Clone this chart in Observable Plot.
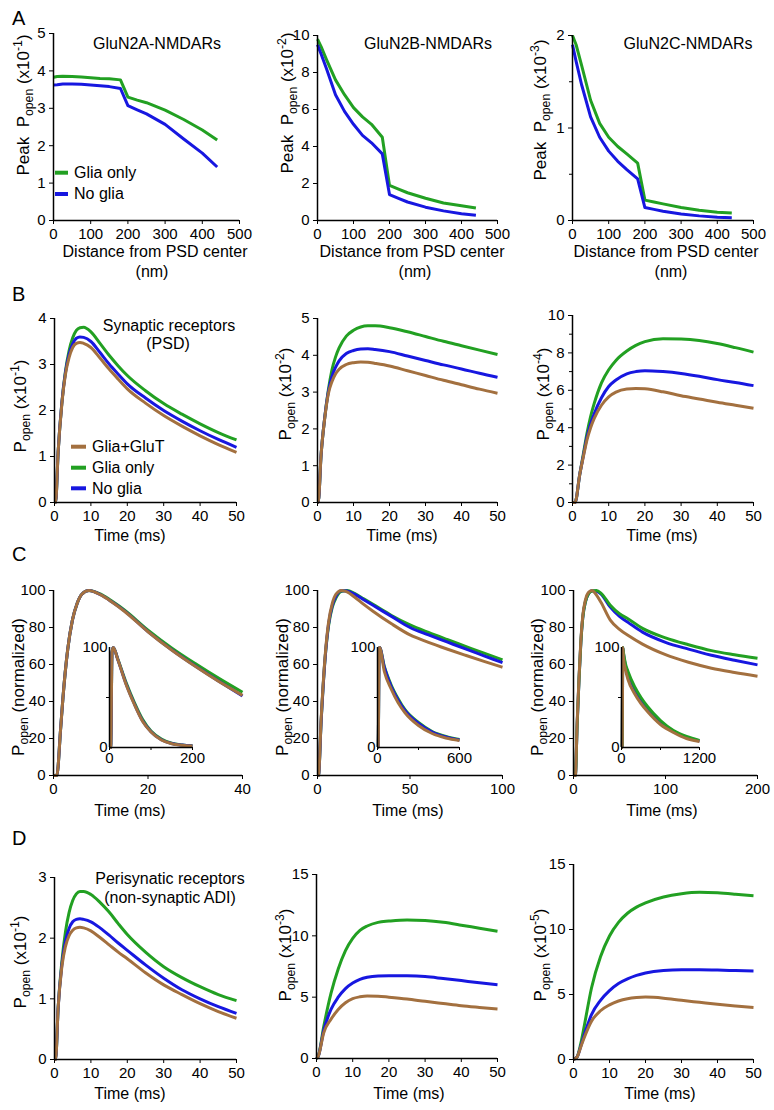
<!DOCTYPE html>
<html><head><meta charset="utf-8">
<script src="https://cdn.jsdelivr.net/npm/d3@7"></script>
<script src="https://cdn.jsdelivr.net/npm/@observablehq/plot@0.6"></script>
<style>
body{margin:0;background:#fff;}
#fig{position:relative;width:774px;height:1110px;overflow:hidden;background:#fff;font-family:"Liberation Sans",Arial,sans-serif;}
</style></head><body><div id="fig"></div>
<script>
// ---------- DATA ----------
// Row A: peak Popen vs distance from PSD center (nm)
const A_dist = [0, 10, 25, 50, 75, 100, 125, 150, 180, 200, 225, 250, 300, 350, 400, 440];
const A1_glia   = [3.83, 3.85, 3.86, 3.85, 3.84, 3.82, 3.80, 3.79, 3.76, 3.30, 3.22, 3.15, 2.95, 2.70, 2.42, 2.15];
const A1_noglia = [3.62, 3.63, 3.65, 3.65, 3.64, 3.62, 3.60, 3.58, 3.53, 3.07, 2.96, 2.85, 2.57, 2.18, 1.80, 1.43];
const A2_glia   = [9.8, 9.4, 8.7, 7.6, 6.8, 6.1, 5.6, 5.2, 4.5, 1.9, 1.7, 1.5, 1.2, 0.95, 0.8, 0.68];
const A2_noglia = [9.5, 9.0, 8.2, 6.8, 5.9, 5.2, 4.6, 4.2, 3.6, 1.4, 1.2, 1.0, 0.72, 0.52, 0.37, 0.28];
const A3_glia   = [2.0, 1.9, 1.68, 1.3, 1.05, 0.9, 0.8, 0.72, 0.62, 0.22, 0.2, 0.18, 0.14, 0.11, 0.09, 0.08];
const A3_noglia = [1.9, 1.72, 1.47, 1.12, 0.9, 0.75, 0.64, 0.55, 0.45, 0.14, 0.12, 0.10, 0.07, 0.05, 0.035, 0.03];

// Row B: synaptic receptors Popen vs time (ms)
const B1_t = [0, 0.3, 1, 2, 3, 4, 5, 6, 7, 8, 10, 12.5, 15, 17.5, 20, 25, 30, 35, 40, 45, 50];
const B1_gluT   = [0, 0, 1.1, 2.12, 2.78, 3.15, 3.37, 3.46, 3.48, 3.46, 3.37, 3.14, 2.9, 2.68, 2.47, 2.16, 1.89, 1.66, 1.45, 1.26, 1.09];
const B1_glia   = [0, 0, 1.1, 2.15, 2.85, 3.3, 3.58, 3.74, 3.8, 3.81, 3.71, 3.46, 3.2, 2.97, 2.76, 2.43, 2.15, 1.92, 1.71, 1.52, 1.36];
const B1_noglia = [0, 0, 1.1, 2.15, 2.82, 3.22, 3.45, 3.57, 3.6, 3.59, 3.5, 3.26, 3.01, 2.79, 2.58, 2.27, 2.0, 1.77, 1.56, 1.37, 1.2];
const B2_t = [0, 0.2, 1, 2, 3, 4, 5, 6, 8, 10, 12, 14, 16, 20, 25, 30, 35, 40, 45, 50];
const B2_gluT   = [0, 0, 1.3, 2.28, 2.95, 3.28, 3.49, 3.62, 3.75, 3.8, 3.82, 3.81, 3.78, 3.71, 3.58, 3.45, 3.32, 3.2, 3.08, 2.97];
const B2_glia   = [0, 0, 1.3, 2.3, 3.05, 3.6, 3.95, 4.2, 4.52, 4.68, 4.77, 4.8, 4.8, 4.75, 4.64, 4.51, 4.38, 4.26, 4.14, 4.02];
const B2_noglia = [0, 0, 1.3, 2.3, 3.0, 3.42, 3.67, 3.85, 4.05, 4.13, 4.17, 4.18, 4.16, 4.1, 3.98, 3.86, 3.74, 3.63, 3.51, 3.4];
const B3_t = [0, 0.7, 2, 3, 4, 5, 6, 8, 10, 12, 15, 17.5, 20, 25, 30, 35, 40, 45, 50];
const B3_gluT   = [0, 0, 1.5, 2.45, 3.35, 4.0, 4.5, 5.2, 5.65, 5.9, 6.07, 6.1, 6.08, 5.92, 5.71, 5.54, 5.36, 5.2, 5.04];
const B3_glia   = [0, 0, 1.5, 2.6, 3.7, 4.6, 5.3, 6.4, 7.1, 7.6, 8.1, 8.4, 8.6, 8.76, 8.74, 8.66, 8.5, 8.28, 8.04];
const B3_noglia = [0, 0, 1.5, 2.5, 3.5, 4.2, 4.75, 5.6, 6.2, 6.55, 6.88, 7.0, 7.05, 7.0, 6.9, 6.75, 6.57, 6.42, 6.25];

// Row C: normalized Popen vs time (ms), with insets
const C1_t = [0, 0.7, 1.5, 2, 3, 4, 5, 6, 7.5, 10, 12.5, 15, 20, 25, 30, 35, 40];
const C1_gluT   = [0, 0, 25, 42, 68, 84, 93, 98, 100, 97.6, 93.5, 88.8, 77.7, 67.8, 59, 50.8, 43.3];
const C1_glia   = [0, 0, 25, 42, 68, 84, 93, 98, 100, 98, 94, 89.5, 78.6, 69, 60.5, 52.5, 45];
const C1_noglia = [0, 0, 25, 42, 68, 84, 93, 98, 100, 97.7, 93.6, 89, 77.8, 68, 59.2, 51, 43];
const C1i_t = [0, 3, 6, 9, 20, 40, 60, 80, 100, 125, 150, 175, 200];
const C1i_gluT   = [0, 0, 95, 100, 88, 63, 43, 26, 15.5, 7.5, 3.8, 2.3, 1.4];
const C1i_glia   = [0, 0, 95, 100, 88.5, 65, 45, 28, 16.5, 8.5, 4.3, 2.6, 1.7];
const C1i_noglia = [0, 0, 95, 100, 88, 63.5, 43.5, 26.5, 15.8, 7.8, 4, 2.4, 1.5];
const C2_t = [0, 0.5, 2, 4, 6, 8, 10, 13, 16, 20, 25, 30, 40, 50, 60, 70, 80, 90, 100];
const C2_gluT   = [0, 0, 31, 63, 83, 93, 98, 100, 99.2, 96.5, 92.5, 88.8, 82, 76, 72, 68.4, 65, 61.7, 58.5];
const C2_glia   = [0, 0, 30, 62, 81, 91, 96, 99.5, 100, 98.5, 95.5, 92.5, 86.5, 81.4, 77.3, 73.5, 69.8, 66.1, 62.5];
const C2_noglia = [0, 0, 30, 62, 82, 92, 97, 99.8, 99.7, 98, 95, 92, 86, 80, 76, 72.2, 68.4, 64.7, 61];
const C2i_t = [0, 5, 12, 15, 50, 100, 150, 200, 300, 400, 500, 600];
const C2i_gluT   = [0, 0, 98, 100, 76, 58.5, 45, 35, 22, 14, 9.5, 7];
const C2i_glia   = [0, 0, 97, 100, 81, 62.5, 49, 38, 25, 16, 11, 8];
const C2i_noglia = [0, 0, 97, 100, 80, 61, 47.5, 37, 24, 15.5, 10.5, 7.5];
const C3_t = [0, 2, 4, 6, 8, 10, 13, 16, 20, 25, 30, 40, 50, 60, 75, 100, 125, 150, 175, 200];
const C3_gluT   = [0, 0, 29, 53, 73, 86, 95, 98.8, 100, 97.5, 93.5, 84, 79, 75.5, 71, 65.3, 61.2, 58, 55.7, 53.7];
const C3_glia   = [0, 0, 28, 52, 72, 85, 94, 98, 99.7, 100, 98.5, 92, 87.4, 84.5, 79.5, 74.4, 70.7, 67.5, 65.3, 63.4];
const C3_noglia = [0, 0, 28, 52, 72, 85, 94, 98, 99.8, 99.6, 98, 91, 86, 82.5, 77.5, 72, 68.3, 65, 62.3, 59.8];
const C3i_t = [0, 10, 20, 30, 60, 100, 200, 300, 400, 600, 800, 1000, 1200];
const C3i_gluT   = [0, 0, 100, 90, 78, 68, 54, 44, 36, 23, 15, 9, 6];
const C3i_glia   = [0, 0, 100, 95, 84, 76, 61, 50, 41, 27, 17, 11, 7];
const C3i_noglia = [0, 0, 100, 94, 82, 74, 59, 48, 39, 25, 16, 10, 6.5];

// Row D: perisynaptic receptors Popen vs time (ms)
const D1_t = [0, 0.3, 1, 2, 3, 4, 5, 6, 7, 8, 10, 12.5, 15, 17.5, 20, 25, 30, 35, 40, 45, 50];
const D1_gluT   = [0, 0, 0.85, 1.52, 1.86, 2.04, 2.13, 2.17, 2.18, 2.17, 2.12, 2.01, 1.89, 1.77, 1.66, 1.43, 1.23, 1.07, 0.92, 0.79, 0.68];
const D1_glia   = [0, 0, 0.85, 1.6, 2.1, 2.42, 2.62, 2.73, 2.77, 2.77, 2.72, 2.59, 2.43, 2.24, 2.06, 1.77, 1.53, 1.35, 1.2, 1.07, 0.97];
const D1_noglia = [0, 0, 0.85, 1.55, 1.95, 2.16, 2.27, 2.31, 2.32, 2.31, 2.27, 2.17, 2.05, 1.92, 1.8, 1.56, 1.34, 1.15, 1.0, 0.87, 0.76];
const D2_t = [0, 0.5, 2, 4, 6, 8, 10, 12, 14, 17, 20, 25, 30, 35, 40, 45, 50];
const D2_gluT   = [0, 0.2, 2.1, 3.2, 4.0, 4.55, 4.88, 5.03, 5.1, 5.08, 5.0, 4.85, 4.66, 4.48, 4.3, 4.16, 4.03];
const D2_glia   = [0, 0.2, 2.6, 5.3, 7.3, 8.8, 9.8, 10.45, 10.8, 11.1, 11.2, 11.3, 11.25, 11.1, 10.87, 10.62, 10.38];
const D2_noglia = [0, 0.2, 2.3, 4.0, 5.0, 5.7, 6.15, 6.45, 6.62, 6.73, 6.75, 6.74, 6.68, 6.52, 6.35, 6.18, 6.02];
const D3_t = [0, 1, 2, 3, 5, 7.5, 10, 12.5, 15, 17.5, 20, 25, 30, 35, 40, 45, 50];
const D3_gluT   = [0, 0.2, 0.95, 1.7, 2.95, 3.75, 4.2, 4.5, 4.68, 4.77, 4.8, 4.72, 4.55, 4.4, 4.25, 4.12, 4.0];
const D3_glia   = [0, 0.2, 1.2, 2.6, 5.5, 7.9, 9.5, 10.55, 11.25, 11.72, 12.05, 12.5, 12.75, 12.86, 12.82, 12.72, 12.6];
const D3_noglia = [0, 0.2, 1.0, 1.9, 3.45, 4.55, 5.3, 5.85, 6.2, 6.47, 6.66, 6.85, 6.9, 6.9, 6.88, 6.84, 6.8];

// Tick values
const A_xticks = [0, 100, 200, 300, 400, 500];
const A1_yticks = [0, 1, 2, 3, 4, 5];
const A2_yticks = [0, 2, 4, 6, 8, 10];
const A3_yticks = [0, 1, 2];
const A3_yminor = [0.5, 1.5];
const T50_ticks = [0, 10, 20, 30, 40, 50];
const B1_yticks = [0, 1, 2, 3, 4];
const B2_yticks = [0, 1, 2, 3, 4, 5];
const B3_yticks = [0, 2, 4, 6, 8, 10];
const B3_yminor = [1, 3, 5, 7, 9];
const C_yticks = [0, 20, 40, 60, 80, 100];
const C1_xticks = [0, 20, 40];
const C2_xticks = [0, 50, 100];
const C3_xticks = [0, 100, 200];
const Ci_yticks = [0, 100];
const Ci_yminor = [50];
const C1i_xticks = [0, 200], C1i_xminor = [100];
const C2i_xticks = [0, 600], C2i_xminor = [300];
const C3i_xticks = [0, 1200], C3i_xminor = [600];
const D1_yticks = [0, 1, 2, 3];
const D23_yticks = [0, 5, 10, 15];

// Series names / colours
const seriesNames = ["Glia+GluT", "Glia only", "No glia"];
const seriesColors = ["#a3703f", "#22a022", "#1717e0"];

// ---------- DRAWING ----------
const FONT = '"Liberation Sans", Arial, sans-serif';
const fig = document.getElementById("fig");
const GLUT = seriesColors[0], GLIA = seriesColors[1], NOGLIA = seriesColors[2];

function rows(t, v) { return t.map((x, i) => ({t: x, v: v[i]})); }

function panel(p) {
  const inset = !!p.inset;
  const ML = 45, MR = 20, MT = 12, MB = 28;
  const w = p.x1 - p.x0, h = p.y1 - p.y0;
  const marks = [];
  for (const s of p.series) {
    marks.push(Plot.line(rows(p.t, s.v), {x: "t", y: "v", stroke: s.color, strokeWidth: 3,
      curve: p.curve || "monotone-x", strokeLinejoin: "round", strokeLinecap: "butt"}));
  }
  marks.push(Plot.ruleX([p.xd[0]], {stroke: "black", strokeWidth: 1.5}));
  marks.push(Plot.ruleY([p.yd[0]], {stroke: "black", strokeWidth: 1.5}));
  marks.push(Plot.axisX({ticks: p.xt, tickSize: inset ? 3 : 4, tickPadding: inset ? 2 : 4, label: null, tickFormat: d => String(d)}));
  marks.push(Plot.axisY({ticks: p.yt, tickSize: inset ? 0 : 4, tickPadding: inset ? 2 : 4, label: null, tickFormat: d => String(d)}));
  if (p.xm) marks.push(Plot.axisX({ticks: p.xm, tickSize: 3, tickPadding: 0, label: null, tickFormat: () => ""}));
  if (p.ym) marks.push(Plot.axisY({ticks: p.ym, tickSize: 3, tickPadding: 0, label: null, tickFormat: () => ""}));
  const svg = Plot.plot({
    width: w + ML + MR, height: h + MT + MB,
    marginLeft: ML, marginRight: MR, marginTop: MT, marginBottom: MB,
    x: {domain: p.xd}, y: {domain: p.yd},
    style: {background: "transparent", overflow: "visible", fontFamily: FONT, fontSize: "15px", color: "black"},
    marks
  });
  svg.style.position = "absolute";
  svg.style.left = (p.x0 - ML) + "px";
  svg.style.top = (p.y0 - MT) + "px";
  fig.appendChild(svg);
}

const gn = (v) => ({v, color: GLIA});
const bl = (v) => ({v, color: NOGLIA});
const br = (v) => ({v, color: GLUT});

// Row A
panel({x0: 53, x1: 239, y0: 33, y1: 220, xd: [0, 500], yd: [0, 5], xt: A_xticks, yt: A1_yticks, t: A_dist, curve: "linear",
  series: [gn(A1_glia), bl(A1_noglia)]});
panel({x0: 317, x1: 497, y0: 35, y1: 220, xd: [0, 500], yd: [0, 10], xt: A_xticks, yt: A2_yticks, t: A_dist, curve: "linear",
  series: [gn(A2_glia), bl(A2_noglia)]});
panel({x0: 572, x1: 753, y0: 35, y1: 220, xd: [0, 500], yd: [0, 2], xt: A_xticks, yt: A3_yticks, ym: A3_yminor, t: A_dist, curve: "linear",
  series: [gn(A3_glia), bl(A3_noglia)]});
// Row B
panel({x0: 54, x1: 236, y0: 318, y1: 502, xd: [0, 50], yd: [0, 4], xt: T50_ticks, yt: B1_yticks, t: B1_t,
  series: [gn(B1_glia), bl(B1_noglia), br(B1_gluT)]});
panel({x0: 317, x1: 497, y0: 318, y1: 502, xd: [0, 50], yd: [0, 5], xt: T50_ticks, yt: B2_yticks, t: B2_t,
  series: [gn(B2_glia), bl(B2_noglia), br(B2_gluT)]});
panel({x0: 572, x1: 753, y0: 315, y1: 502, xd: [0, 50], yd: [0, 10], xt: T50_ticks, yt: B3_yticks, ym: B3_yminor, t: B3_t,
  series: [gn(B3_glia), bl(B3_noglia), br(B3_gluT)]});
// Row C
panel({x0: 53, x1: 242, y0: 590, y1: 775, xd: [0, 40], yd: [0, 100], xt: C1_xticks, yt: C_yticks, t: C1_t,
  series: [gn(C1_glia), bl(C1_noglia), br(C1_gluT)]});
panel({x0: 317, x1: 502, y0: 590, y1: 775, xd: [0, 100], yd: [0, 100], xt: C2_xticks, yt: C_yticks, t: C2_t,
  series: [gn(C2_glia), bl(C2_noglia), br(C2_gluT)]});
panel({x0: 573, x1: 757, y0: 590, y1: 775, xd: [0, 200], yd: [0, 100], xt: C3_xticks, yt: C_yticks, t: C3_t,
  series: [bl(C3_noglia), gn(C3_glia), br(C3_gluT)]});
panel({inset: true, x0: 109, x1: 192, y0: 647, y1: 747, xd: [0, 200], yd: [0, 100], xt: C1i_xticks, xm: C1i_xminor, yt: Ci_yticks, ym: Ci_yminor, t: C1i_t,
  series: [gn(C1i_glia), bl(C1i_noglia), br(C1i_gluT)]});
panel({inset: true, x0: 377, x1: 459, y0: 647, y1: 747, xd: [0, 600], yd: [0, 100], xt: C2i_xticks, xm: C2i_xminor, yt: Ci_yticks, ym: Ci_yminor, t: C2i_t,
  series: [gn(C2i_glia), bl(C2i_noglia), br(C2i_gluT)]});
panel({inset: true, x0: 621, x1: 699, y0: 647, y1: 747, xd: [0, 1200], yd: [0, 100], xt: C3i_xticks, xm: C3i_xminor, yt: Ci_yticks, ym: Ci_yminor, t: C3i_t,
  series: [bl(C3i_noglia), gn(C3i_glia), br(C3i_gluT)]});
// Row D
panel({x0: 54, x1: 236, y0: 877, y1: 1059, xd: [0, 50], yd: [0, 3], xt: T50_ticks, yt: D1_yticks, t: D1_t,
  series: [gn(D1_glia), bl(D1_noglia), br(D1_gluT)]});
panel({x0: 316, x1: 497, y0: 874, y1: 1058, xd: [0, 50], yd: [0, 15], xt: T50_ticks, yt: D23_yticks, t: D2_t,
  series: [gn(D2_glia), bl(D2_noglia), br(D2_gluT)]});
panel({x0: 573, x1: 753, y0: 864, y1: 1059, xd: [0, 50], yd: [0, 15], xt: T50_ticks, yt: D23_yticks, t: D3_t,
  series: [gn(D3_glia), bl(D3_noglia), br(D3_gluT)]});

// ---------- TEXT OVERLAY ----------
const ov = d3.select(fig).append("svg")
  .attr("width", 774).attr("height", 1110)
  .style("position", "absolute").style("left", "0px").style("top", "0px")
  .style("pointer-events", "none")
  .attr("font-family", FONT).attr("fill", "black");

function txt(x, y, s, size, anchor = "middle") {
  ov.append("text").attr("x", x).attr("y", y).attr("font-size", size)
    .attr("text-anchor", anchor).text(s);
}
// parts: [text, kind] kind: undefined | "sub" | "sup"
function ylab(cx, cy, parts, size = 17) {
  const t = ov.append("text").attr("transform", `translate(${cx + 6},${cy}) rotate(-90)`)
    .attr("text-anchor", "middle").attr("font-size", size).style("white-space", "pre");
  let off = 0;
  for (const [s, kind] of parts) {
    const target = kind === "sub" ? 4 : kind === "sup" ? -7 : 0;
    const sp = t.append("tspan").attr("dy", target - off).text(s);
    if (kind) sp.attr("font-size", size * 0.72);
    off = target;
  }
}
const popenX = (e) => [["P"], ["open", "sub"], [" (x10"], [e, "sup"], [")"]];
const peakX = (e) => [["Peak  P"], ["open", "sub"], [" (x10"], [e, "sup"], [")"]];

// Panel letters
txt(12, 25, "A", 20, "start");
txt(12, 301, "B", 20, "start");
txt(12, 561, "C", 20, "start");
txt(12, 845, "D", 20, "start");

// Row A texts
txt(157, 49, "GluN2A-NMDARs", 16);
txt(428, 49, "GluN2B-NMDARs", 16);
txt(688, 49, "GluN2C-NMDARs", 16);
[[155, 152], [412, 415], [666, 671]].forEach(([a, b]) => {
  txt(a, 257, "Distance from PSD center", 16);
  txt(b, 277, "(nm)", 16);
});
ylab(23, 105, peakX("-1"));
ylab(287, 103, peakX("-2"));
ylab(540, 110, peakX("-3"));

// Row A legend
[[seriesNames[1], seriesColors[1], 172.7, 178], [seriesNames[2], seriesColors[2], 194, 199]].forEach(([n, c, ly, ty]) => {
  ov.append("line").attr("x1", 55).attr("x2", 68).attr("y1", ly).attr("y2", ly).attr("stroke", c).attr("stroke-width", 4);
  txt(74, ty, n, 16, "start");
});

// Row B texts
txt(169, 331, "Synaptic receptors", 16);
txt(168, 349, "(PSD)", 16);
ylab(20, 406, popenX("-1"));
ylab(285, 394, popenX("-2"));
ylab(543, 394, popenX("-4"));
[130, 402, 662].forEach(x => txt(x, 541, "Time (ms)", 16));
[[0, 446.7, 452], [1, 467.7, 473], [2, 488.3, 494]].forEach(([i, ly, ty]) => {
  ov.append("line").attr("x1", 71).attr("x2", 86).attr("y1", ly).attr("y2", ly).attr("stroke", seriesColors[i]).attr("stroke-width", 4);
  txt(92, ty, seriesNames[i], 16, "start");
});

// Row C texts
const normParts = [["P"], ["open", "sub"], [" (normalized)"]];
ylab(18, 687, normParts);
ylab(282, 687, normParts);
ylab(537, 687, normParts);
[130, 408, 662].forEach(x => txt(x, 816, "Time (ms)", 16));

// Row D texts
txt(170, 884, "Perisynatic receptors", 16);
txt(170, 903, "(non-synaptic ADI)", 16);
ylab(20, 962, popenX("-1"));
ylab(285, 955, popenX("-3"));
ylab(540, 955, popenX("-5"));
[130, 409, 660].forEach(x => txt(x, 1099, "Time (ms)", 16));
</script></body></html>
